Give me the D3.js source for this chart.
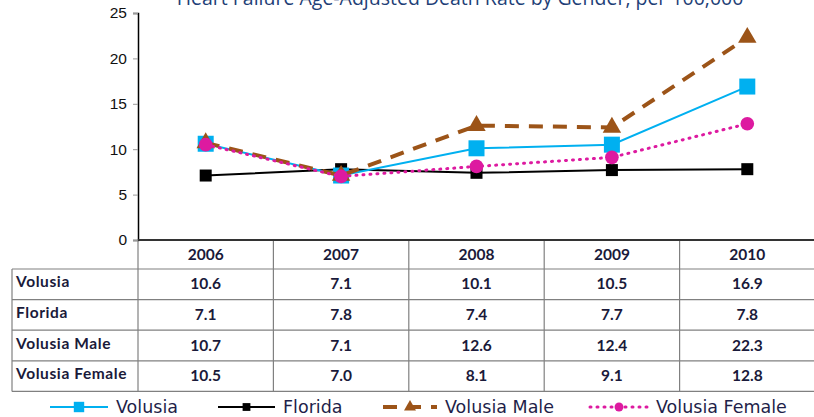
<!DOCTYPE html>
<html lang="en">
  <head>
    <meta charset="UTF-8" />
    <title>Heart Failure Age-Adjusted Death Rate by Gender</title>
    <script src="https://d3js.org/d3.v7.min.js"></script>
    <style>
      body {
        margin: 0;
        background: #fff;
      }
      svg {
        display: block;
      }
    </style>
  </head>
  <body>
    <div id="chart"></div>
    <script>
      // data
      const years = ["2006", "2007", "2008", "2009", "2010"];
      const seriesNames = ["Volusia", "Florida", "Volusia Male", "Volusia Female"];
      const volusia = [10.6, 7.1, 10.1, 10.5, 16.9];
      const florida = [7.1, 7.8, 7.4, 7.7, 7.8];
      const volusiaMale = [10.7, 7.1, 12.6, 12.4, 22.3];
      const volusiaFemale = [10.5, 7.0, 8.1, 9.1, 12.8];
      const yTicks = [0, 5, 10, 15, 20, 25];
      const title = "Heart Failure Age-Adjusted Death Rate by Gender, per 100,000";

      const width = 814;
      const height = 417;
      const plot = { left: 138, right: 815, top: 13, bottom: 240 };
      const table = { left: 12, headerH: 29, rowH: 30.6 };

      const series = [
        { name: seriesNames[0], values: volusia, color: "#00b0f0", width: 2, dash: null, marker: "square", size: 16 },
        { name: seriesNames[1], values: florida, color: "#000000", width: 2, dash: null, marker: "square", size: 12 },
        { name: seriesNames[2], values: volusiaMale, color: "#9c5418", width: 4, dash: "14,10", marker: "triangle", size: 14 },
        { name: seriesNames[3], values: volusiaFemale, color: "#dd1aa0", width: 3, dash: "1,6", marker: "circle", size: 14 },
      ];

      const svg = d3
        .select("#chart")
        .append("svg")
        .attr("width", width)
        .attr("height", height);

      const x = d3.scaleBand().domain(years).range([plot.left, plot.right]);
      const y = d3.scaleLinear().domain([0, 25]).range([plot.bottom, plot.top]);

      // title (only its lower half shows, like the reference)
      svg
        .append("text")
        .attr("x", 460)
        .attr("y", 5)
        .attr("text-anchor", "middle")
        .attr("font-family", "Open Sans, sans-serif")
        .attr("font-size", 19.5)
        .attr("fill", "#1f3f77")
        .text(title);

      // y axis
      const yAxis = svg
        .append("g")
        .attr("transform", `translate(${plot.left},0)`)
        .call(d3.axisLeft(y).tickValues(yTicks).tickSize(5).tickPadding(6));
      yAxis.select(".domain").attr("stroke", "#000").attr("stroke-width", 1.5);
      yAxis.selectAll(".tick line").attr("stroke", "#999");
      yAxis
        .selectAll("text")
        .attr("font-family", "Liberation Sans, Arial, sans-serif")
        .attr("font-size", 15.5)
        .attr("fill", "#111");

      // table grid
      const grid = svg.append("g").attr("stroke", "#808080").attr("stroke-width", 1.2);
      const rowY = (i) => plot.bottom + table.headerH + i * table.rowH;
      const tableBottom = rowY(seriesNames.length);

      years.forEach((yr) => {
        grid
          .append("line")
          .attr("x1", x(yr))
          .attr("x2", x(yr))
          .attr("y1", plot.bottom)
          .attr("y2", tableBottom);
      });
      grid
        .append("line")
        .attr("x1", table.left)
        .attr("x2", table.left)
        .attr("y1", rowY(0))
        .attr("y2", tableBottom);
      d3.range(seriesNames.length + 1).forEach((i) => {
        grid
          .append("line")
          .attr("x1", table.left)
          .attr("x2", plot.right)
          .attr("y1", rowY(i))
          .attr("y2", rowY(i));
      });

      // x axis line on top of the table
      svg
        .append("line")
        .attr("x1", plot.left)
        .attr("x2", plot.right)
        .attr("y1", plot.bottom)
        .attr("y2", plot.bottom)
        .attr("stroke", "#333")
        .attr("stroke-width", 2);

      const cellFont = "Lato, sans-serif";
      const cellSize = 15.5;
      const cellColor = "#1a1a3a";

      // header years
      svg
        .selectAll(".year")
        .data(years)
        .enter()
        .append("text")
        .attr("x", (d) => x(d) + x.bandwidth() / 2)
        .attr("y", plot.bottom + table.headerH / 2 + 5)
        .attr("text-anchor", "middle")
        .attr("font-family", cellFont)
        .attr("font-weight", "bold")
        .attr("font-size", cellSize)
        .attr("fill", cellColor)
        .text((d) => d);

      // row labels and values
      series.forEach((s, i) => {
        svg
          .append("text")
          .attr("x", table.left + 4)
          .attr("y", rowY(i) + table.rowH / 2 + 3)
          .attr("font-family", cellFont)
          .attr("font-weight", "bold")
          .attr("font-size", cellSize)
          .attr("letter-spacing", 0.6)
          .attr("fill", cellColor)
          .text(s.name);
        svg
          .selectAll(".v" + i)
          .data(s.values)
          .enter()
          .append("text")
          .attr("x", (d, j) => x(years[j]) + x.bandwidth() / 2)
          .attr("y", rowY(i) + table.rowH / 2 + 5)
          .attr("text-anchor", "middle")
          .attr("font-family", cellFont)
          .attr("font-weight", "bold")
          .attr("font-size", cellSize)
          .attr("fill", cellColor)
          .text((d) => d.toFixed(1));
      });

      // lines
      const cx = (j) => x(years[j]) + x.bandwidth() / 2;
      const line = d3
        .line()
        .x((d, j) => cx(j))
        .y((d) => y(d));

      const symbolFor = (m) =>
        m === "square" ? d3.symbolSquare : m === "triangle" ? d3.symbolTriangle : d3.symbolCircle;

      function drawMarker(g, s, px, py) {
        if (s.marker === "square") {
          g.append("rect")
            .attr("x", px - s.size / 2)
            .attr("y", py - s.size / 2)
            .attr("width", s.size)
            .attr("height", s.size)
            .attr("fill", s.color);
        } else {
          g.append("path")
            .attr("transform", `translate(${px},${py})`)
            .attr("d", d3.symbol().type(symbolFor(s.marker)).size(s.size * s.size * 0.75)())
            .attr("fill", s.color);
        }
      }

      const drawOrder = [1, 0, 2, 3];
      drawOrder.forEach((k) => {
        const s = series[k];
        const g = svg.append("g");
        g.append("path")
          .datum(s.values)
          .attr("d", line)
          .attr("fill", "none")
          .attr("stroke", s.color)
          .attr("stroke-width", s.width)
          .attr("stroke-linecap", s.dash === "1,6" ? "round" : "butt")
          .attr("stroke-dasharray", s.dash);
        s.values.forEach((v, j) => drawMarker(g, s, cx(j), y(v)));
      });

      // legend
      const legendY = 407;
      const legendX = [50, 218, 383, 590];
      const legendLen = [58, 57, 54, 58];
      series.forEach((s, i) => {
        const g = svg.append("g");
        const x0 = legendX[i];
        const len = legendLen[i];
        g.append("line")
          .attr("x1", x0)
          .attr("x2", x0 + len)
          .attr("y1", legendY)
          .attr("y2", legendY)
          .attr("stroke", s.color)
          .attr("stroke-width", s.width)
          .attr("stroke-linecap", s.dash === "1,6" ? "round" : "butt")
          .attr("stroke-dasharray", s.dash);
        drawMarker(g, Object.assign({}, s, { size: s.size * 0.65 }), x0 + len / 2, legendY);
        g.append("text")
          .attr("x", x0 + len + 8)
          .attr("y", legendY + 6)
          .attr("font-family", "DejaVu Sans, sans-serif")
          .attr("font-size", 17.5)
          .attr("fill", "#1f1f4a")
          .text(s.name);
      });
    </script>
  </body>
</html>
